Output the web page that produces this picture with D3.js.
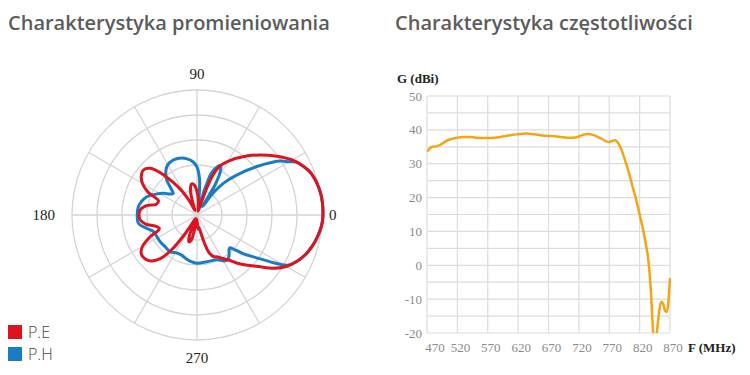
<!DOCTYPE html>
<html>
<head>
<meta charset="utf-8">
<script src="https://cdn.jsdelivr.net/npm/d3@7"></script>
<style>
  body { margin: 0; background: #fff; }
  svg { display: block; }
</style>
</head>
<body>
<div id="chart"></div>
<script>
var width = 750;
var height = 375;

// radiation pattern, angle in degrees (0 = right, counter-clockwise), radius in ring units
var eAngles = [0, 10, 20, 25, 30, 40, 50, 60, 65, 68, 70, 71, 73, 80, 88, 95, 100, 105, 110, 114, 118,
  122, 126, 130, 135, 140, 145, 150, 155, 160, 165, 170, 175, 180, 185, 190, 195, 200, 205, 210,
  215, 220, 225, 230, 234, 237, 240, 245, 250, 253, 257, 262, 268, 274, 278, 282, 285, 288, 292,
  295, 300, 305, 310, 315, 320, 325, 330, 335, 340, 345, 350, 355];
var eValues = [50.4, 50.2, 48.6, 46.6, 44, 37.2, 30.8, 24.8, 21.6, 17.6, 12, 6, 1.6, 3.2, 8, 12, 12.6, 10, 4, 2, 6,
  11.2, 16, 21.2, 26.4, 28, 27.2, 25.2, 21.6, 16.4, 16.8, 20.8, 22.8, 23.2, 22.8, 20.8, 17.2, 16, 20.8, 25.2,
  27.2, 27.2, 26, 22.8, 16.8, 10, 4, 1.6, 8.8, 11.2, 10.4, 4, 1.6, 5.6, 4.8, 7.2, 12, 16, 18,
  18.4, 20, 22, 25.2, 28.4, 32, 37.2, 41.2, 44, 46.2, 47.8, 49, 50];

var hAngles = [0, 10, 20, 25, 28, 30, 33, 35, 39, 44, 50, 54, 57, 59, 62, 65, 68, 71, 73, 76, 80, 84, 86,
  90, 95, 100, 105, 113, 118, 122, 127, 131, 135, 138, 142, 147, 154, 160, 166, 172, 180, 188, 195,
  200, 205, 215, 225, 234, 242, 249, 256, 263, 270, 282, 294, 301, 305, 309, 313, 315, 317, 320,
  324, 328, 331, 335, 340, 345, 350, 355];
var hValues = [50.4, 50.2, 48.6, 46.6, 45, 42.6, 39.6, 36.8, 30.8, 24, 16.8, 10.4, 4, 14, 20, 22, 20.4, 17.6, 12, 3.2, 2.4, 8.8, 14.4,
  19.2, 21.6, 22.8, 23.6, 24, 23.6, 22.8, 20.8, 18.4, 14.4, 12.8, 13.6, 16, 18.8, 21.4, 22.8, 23.7, 23.9, 23.7, 20.8,
  18.8, 18.3, 18.2, 18, 18.2, 17.2, 17.2, 18, 18.8, 19.3, 19.1, 19.6, 21.4, 21.6, 20.4, 18.8, 18.6, 20, 24,
  28.8, 36, 41.4, 44, 46.2, 47.8, 49, 50];

var rings = [10, 20, 30, 40, 50];
var spokes = d3.range(0, 360, 30);
var angleLabels = [0, 90, 180, 270];

// gain vs frequency
var freq = [470, 474, 479, 486, 492, 498, 505, 512, 520, 530, 540, 550, 560, 570, 580, 590, 600, 610, 620,
  632, 640, 650, 660, 670, 680, 690, 700, 710, 718, 726, 735, 742, 750, 758, 765, 770, 775, 780, 784,
  788, 792, 796, 802, 808, 814, 820, 826, 830, 834, 837, 839, 841, 843, 845, 847, 850, 853, 856, 859,
  862, 865, 867, 869, 870];
var gain = [33.6, 34.4, 35.0, 35.2, 35.6, 36.3, 37.0, 37.4, 37.7, 37.9, 37.9, 37.7, 37.6, 37.6, 37.7, 37.9, 38.2, 38.5, 38.7,
  38.9, 38.8, 38.6, 38.3, 38.2, 38.1, 37.9, 37.7, 37.7, 37.9, 38.5, 38.8, 38.6, 38.0, 37.3, 36.6, 36.4, 36.8, 36.9, 36.3,
  35.0, 33.2, 31.0, 27.5, 23.5, 19.6, 15.0, 10.3, 6.5, 2.0, -3.5, -9, -16, -22, -25, -22, -17, -12.5, -10.8, -11.5,
  -13.5, -13.8, -11.5, -6.5, -3.8];
var freqTicks = d3.range(470, 871, 50);
var gainTicks = d3.range(-20, 51, 10);
var gainGrid = d3.range(-20, 51, 5);

var svg = d3.select("#chart").append("svg")
  .attr("width", width)
  .attr("height", height);

// titles
svg.append("text").attr("x", 8).attr("y", 30)
  .attr("font-family", "Open Sans").attr("font-size", 20).attr("font-weight", 600)
  .attr("fill", "#5b5b5b").text("Charakterystyka promieniowania");
svg.append("text").attr("x", 395).attr("y", 30)
  .attr("font-family", "Open Sans").attr("font-size", 20).attr("font-weight", 600)
  .attr("fill", "#5b5b5b").text("Charakterystyka częstotliwości");

// ---- polar chart ----
var cx = 197, cy = 215;
var r = d3.scaleLinear().domain([0, 50]).range([0, 125]);
var polar = svg.append("g").attr("transform", "translate(" + cx + "," + cy + ")");

polar.selectAll(".ring").data(rings).enter().append("circle")
  .attr("r", function(d) { return r(d); })
  .attr("fill", "none").attr("stroke", "#d4d4d4").attr("stroke-width", 1.3);

polar.selectAll(".spoke").data(spokes).enter().append("line")
  .attr("x1", 0).attr("y1", 0)
  .attr("x2", function(d) { return r(50) * Math.cos(d * Math.PI / 180); })
  .attr("y2", function(d) { return -r(50) * Math.sin(d * Math.PI / 180); })
  .attr("stroke", "#d4d4d4").attr("stroke-width", 1.3);

// label offsets for each side of the circle
var labelGap = {0: 7, 90: 11, 180: 17, 270: 12};
polar.selectAll(".alabel").data(angleLabels).enter().append("text")
  .attr("x", function(d) { return (r(50) + labelGap[d]) * Math.cos(d * Math.PI / 180); })
  .attr("y", function(d) { return -(r(50) + labelGap[d]) * Math.sin(d * Math.PI / 180); })
  .attr("dy", function(d) { return d == 90 ? "0" : (d == 270 ? "0.7em" : "0.35em"); })
  .attr("text-anchor", function(d) { return d == 0 ? "start" : (d == 180 ? "end" : "middle"); })
  .attr("font-family", "Liberation Serif").attr("font-size", 15).attr("fill", "#222")
  .text(function(d) { return d; });

var radial = d3.lineRadial()
  .angle(function(d) { return (90 - d[0]) * Math.PI / 180; })
  .radius(function(d) { return r(d[1]); })
  .curve(d3.curveCatmullRomClosed.alpha(0.5));

polar.append("path")
  .datum(d3.zip(hAngles, hValues))
  .attr("d", radial)
  .attr("fill", "none").attr("stroke", "#1a7dc4").attr("stroke-width", 3);
polar.append("path")
  .datum(d3.zip(eAngles, eValues))
  .attr("d", radial)
  .attr("fill", "none").attr("stroke", "#dc1420").attr("stroke-width", 3);

// legend
var legend = [["P.E", "#dc1420"], ["P.H", "#1a7dc4"]];
var lg = svg.selectAll(".lg").data(legend).enter().append("g")
  .attr("transform", function(d, i) { return "translate(8," + (325 + i * 22) + ")"; });
lg.append("rect").attr("width", 14).attr("height", 14).attr("fill", function(d) { return d[1]; });
lg.append("text").attr("x", 20).attr("y", 13)
  .attr("font-family", "Open Sans").attr("font-weight", 300).attr("font-size", 16).attr("fill", "#444")
  .text(function(d) { return d[0]; });

// ---- gain chart ----
var x = d3.scaleLinear().domain([470, 870]).range([427, 670]);
var y = d3.scaleLinear().domain([-20, 50]).range([333, 96]);

var grid = svg.append("g");
grid.selectAll(".hg").data(gainGrid).enter().append("line")
  .attr("x1", x(470)).attr("x2", x(870))
  .attr("y1", function(d) { return y(d); }).attr("y2", function(d) { return y(d); })
  .attr("stroke", "#dcdcdc").attr("stroke-width", 1.2);
grid.selectAll(".vg").data(freqTicks).enter().append("line")
  .attr("y1", y(-20)).attr("y2", y(50))
  .attr("x1", function(d) { return x(d); }).attr("x2", function(d) { return x(d); })
  .attr("stroke", "#dcdcdc").attr("stroke-width", 1.2);

svg.selectAll(".yl").data(gainTicks).enter().append("text")
  .attr("x", 422).attr("y", function(d) { return y(d); }).attr("dy", "0.35em")
  .attr("text-anchor", "end")
  .attr("font-family", "Liberation Serif").attr("font-size", 13).attr("fill", "#8a8a8a")
  .text(function(d) { return d; });

svg.selectAll(".xl").data(freqTicks).enter().append("text")
  .attr("x", function(d, i) { return x(d) + (i == 0 ? 8 : 3); }).attr("y", 352)
  .attr("text-anchor", "middle")
  .attr("font-family", "Liberation Serif").attr("font-size", 13).attr("fill", "#8a8a8a")
  .text(function(d) { return d; });

svg.append("text").attr("x", 688).attr("y", 352)
  .attr("font-family", "Liberation Serif").attr("font-weight", "bold").attr("font-size", 13).attr("fill", "#222")
  .text("F (MHz)");
svg.append("text").attr("x", 397).attr("y", 83)
  .attr("font-family", "Liberation Serif").attr("font-weight", "bold").attr("font-size", 13).attr("fill", "#222")
  .text("G (dBi)");

svg.append("clipPath").attr("id", "plotclip")
  .append("rect").attr("x", x(470)).attr("y", y(50))
  .attr("width", x(870) - x(470) + 2).attr("height", y(-20) - y(50));

var line = d3.line()
  .x(function(d) { return x(d[0]); })
  .y(function(d) { return y(d[1]); })
  .curve(d3.curveMonotoneX);

svg.append("path")
  .datum(d3.zip(freq, gain))
  .attr("clip-path", "url(#plotclip)")
  .attr("d", line)
  .attr("fill", "none").attr("stroke", "#f2a516").attr("stroke-width", 2.5);
</script>
</body>
</html>
